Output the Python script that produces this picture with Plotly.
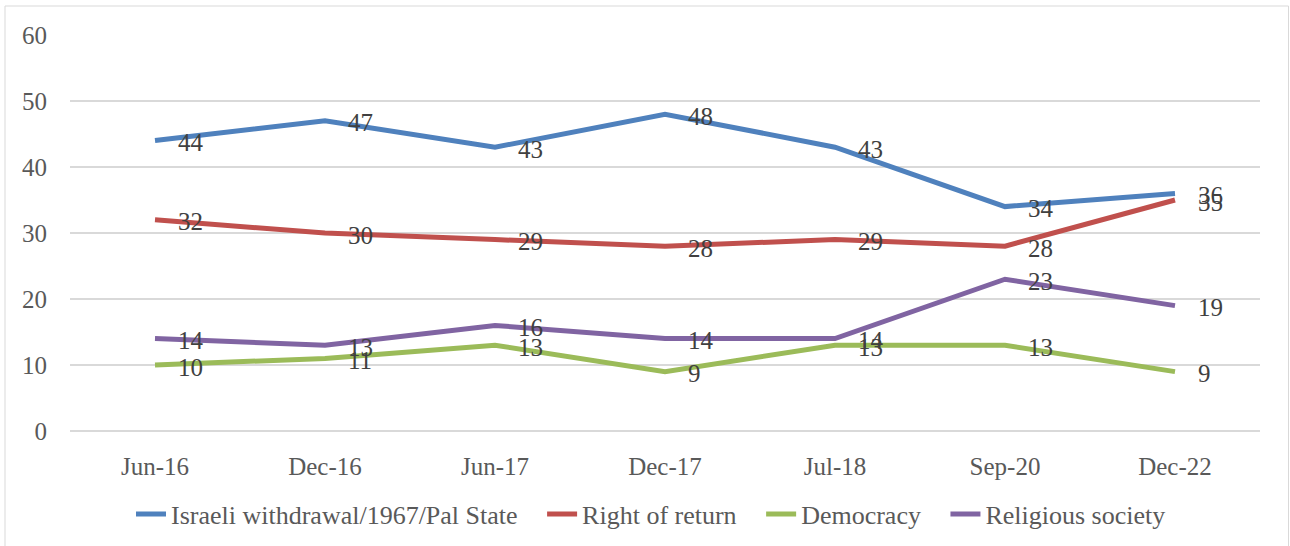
import plotly.graph_objects as go

categories = ["Jun-16", "Dec-16", "Jun-17", "Dec-17", "Jul-18", "Sep-20", "Dec-22"]
withdrawal = [44, 47, 43, 48, 43, 34, 36]
right_of_return = [32, 30, 29, 28, 29, 28, 35]
democracy = [10, 11, 13, 9, 13, 13, 9]
religious = [14, 13, 16, 14, 14, 23, 19]
y_ticks = [0, 10, 20, 30, 40, 50, 60]

series = [
    ("Israeli withdrawal/1967/Pal State", withdrawal, "#4F81BD"),
    ("Right of return", right_of_return, "#C0504D"),
    ("Democracy", democracy, "#9BBB59"),
    ("Religious society", religious, "#8064A2"),
]

FONT = "Liberation Serif, DejaVu Serif, serif"
W, H = 1290, 546
L, R, T, B = 70, 30, 35, 115
pw = W - L - R
ph = H - T - B
PAD = "\u00a0" * 3

fig = go.Figure()
annotations = []
for i, (name, vals, color) in enumerate(series):
    fig.add_trace(go.Scatter(
        x=categories, y=vals, name=name + (PAD if i < len(series) - 1 else ""),
        mode="lines", line=dict(color=color, width=5),
    ))
    for c, v in zip(categories, vals):
        annotations.append(dict(
            x=c, y=v, xref="x", yref="y", text=str(v), showarrow=False,
            xanchor="left", yanchor="middle", xshift=21, yshift=-2,
            font=dict(family=FONT, size=25, color="#404040"),
        ))

fig.add_shape(type="rect", xref="paper", yref="paper",
              x0=(5 - L) / pw, x1=(W - 1.5 - L) / pw,
              y0=(H - B - 560) / ph, y1=(H - B - 6) / ph,
              line=dict(color="#D9D9D9", width=1), layer="below")

fig.update_layout(
    width=W, height=H,
    margin=dict(l=L, r=R, t=T, b=B, autoexpand=False),
    paper_bgcolor="white", plot_bgcolor="white",
    font=dict(family=FONT, size=25, color="#595959"),
    showlegend=True,
    annotations=annotations,
    legend=dict(orientation="h", x=(651 - L) / pw, xanchor="center",
                y=(H - B - 514) / ph, yanchor="middle",
                font=dict(family=FONT, size=26, color="#595959"), tracegroupgap=0),
    xaxis=dict(type="category", range=[-0.5, 6.5], showgrid=False, showline=False,
               ticks="", zeroline=False, automargin=False,
               tickfont=dict(family=FONT, size=25, color="#595959"),
               ticklabelstandoff=18),
    yaxis=dict(range=[0, 60], tickvals=y_ticks, showgrid=True, gridcolor="#D9D9D9",
               gridwidth=1.5, zeroline=True, zerolinecolor="#D9D9D9", zerolinewidth=1.5,
               showline=False, ticks="", automargin=False,
               tickfont=dict(family=FONT, size=25, color="#595959"),
               ticklabelstandoff=22),
)

fig.write_html("out.html", config={"displayModeBar": False},
               post_script="document.body.style.margin='0';document.body.style.overflow='hidden';")
